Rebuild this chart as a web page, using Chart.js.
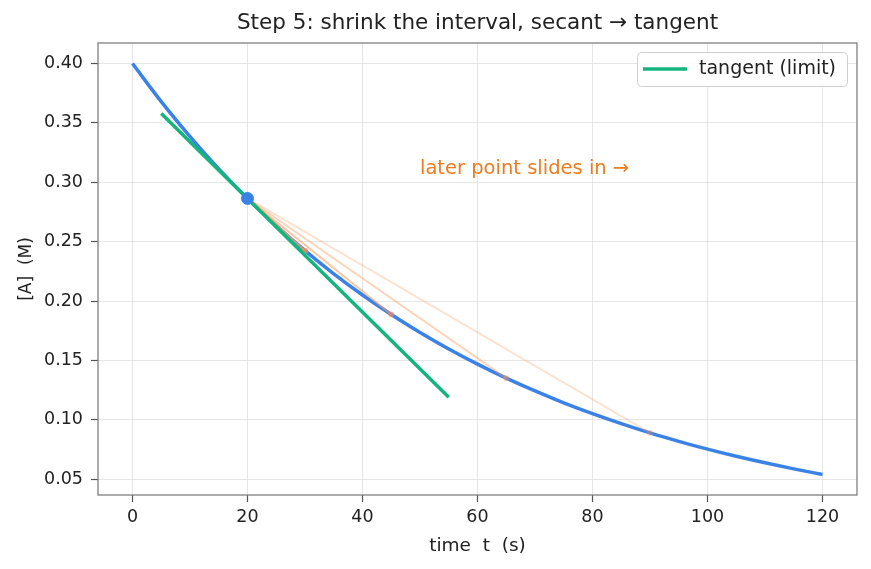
<!DOCTYPE html>
<html lang="en">
<head>
<meta charset="UTF-8" />
<title>secant to tangent</title>
<script src="https://cdn.jsdelivr.net/npm/chart.js"></script>
<style>
    html, body { margin: 0; padding: 0; background: #fff; }
    #box { width: 871px; height: 569px; }
</style>
</head>
<body>
<div id="box"><canvas id="grafico"></canvas></div>
<script>
    // curve [A](t), every 5 s
    const tempos = [0, 5, 10, 15, 20, 25, 30, 35, 40, 45, 50, 55, 60, 65, 70, 75, 80, 85, 90, 95, 100, 105, 110, 115, 120];
    const concentracao = [0.4000, 0.3679, 0.3385, 0.3113, 0.2864, 0.2635, 0.2424, 0.2229, 0.2051, 0.1887, 0.1736, 0.1597, 0.1469, 0.1351, 0.1243, 0.1143, 0.1052, 0.0968, 0.0890, 0.0819, 0.0753, 0.0693, 0.0638, 0.0587, 0.0540];

    // fixed point and the later points of the secants
    const ponto_t = 20;
    const ponto_a = 0.2864;
    const secante_t = [90, 65, 45, 30];
    const secante_a = [0.0890, 0.1351, 0.1887, 0.2424];
    const secante_alpha = [0.3, 0.45, 0.6, 0.75];

    // tangent line ends
    const tangente_t = [5, 55];
    const tangente_a = [0.3580, 0.1190];

    const ticks_x = [0, 20, 40, 60, 80, 100, 120];
    const ticks_y = [0.05, 0.10, 0.15, 0.20, 0.25, 0.30, 0.35, 0.40];

    const AZUL = '#3b82e6';
    const VERDE = '#14b47f';
    const LARANJA = '#ee7b1e';
    const fonte = '"DejaVu Sans", sans-serif';

    var datasets = [];

    datasets.push({
        label: 'curve',
        data: tempos.map((t, i) => ({ x: t, y: concentracao[i] })),
        borderColor: AZUL,
        borderWidth: 3.5,
        pointRadius: 0,
        cubicInterpolationMode: 'monotone',
        order: 10
    });

    for (let i = 0; i < secante_t.length; i++) {
        datasets.push({
            label: 'secant ' + secante_t[i],
            data: [{ x: ponto_t, y: ponto_a }, { x: secante_t[i], y: secante_a[i] }],
            borderColor: `rgba(246,160,100,${secante_alpha[i]})`,
            backgroundColor: `rgba(240,140,90,${secante_alpha[i]})`,
            borderWidth: 2,
            pointRadius: [0, 3],
            pointBorderWidth: 0,
            order: 9 - i
        });
    }

    datasets.push({
        label: 'tangent (limit)',
        data: tangente_t.map((t, i) => ({ x: t, y: tangente_a[i] })),
        borderColor: VERDE,
        borderWidth: 3.5,
        pointRadius: 0,
        order: 2
    });

    datasets.push({
        label: 'point',
        data: [{ x: ponto_t, y: ponto_a }],
        backgroundColor: AZUL,
        borderColor: AZUL,
        pointRadius: 6,
        showLine: false,
        order: 1
    });

    // title, axis titles, legend, annotation and the frame
    const extras = {
        id: 'extras',
        afterDraw(chart) {
            const ctx = chart.ctx;
            const area = chart.chartArea;
            const sx = chart.scales.x;
            const sy = chart.scales.y;
            ctx.save();

            ctx.strokeStyle = '#808080';
            ctx.lineWidth = 1.3;
            ctx.strokeRect(area.left, area.top, area.right - area.left, area.bottom - area.top);

            ctx.fillStyle = '#222';
            ctx.font = '21.5px ' + fonte;
            ctx.textAlign = 'center';
            ctx.textBaseline = 'middle';
            ctx.fillText('Step 5: shrink the interval, secant \u2192 tangent', (area.left + area.right) / 2, 23);

            ctx.font = '18.5px ' + fonte;
            ctx.fillText('time  t  (s)', (area.left + area.right) / 2, 546);
            ctx.save();
            ctx.translate(27, (area.top + area.bottom) / 2);
            ctx.rotate(-Math.PI / 2);
            ctx.font = '17px ' + fonte;
            ctx.fillText('[A]  (M)', 0, 0);
            ctx.restore();

            ctx.fillStyle = LARANJA;
            ctx.font = '19.5px ' + fonte;
            ctx.textAlign = 'left';
            ctx.fillText('later point slides in \u2192', sx.getPixelForValue(50), sy.getPixelForValue(0.311));

            // legend
            const lx = 637, ly = 52, lw = 210, lh = 34;
            ctx.fillStyle = 'rgba(255,255,255,0.85)';
            ctx.strokeStyle = '#d0d0d0';
            ctx.lineWidth = 1;
            ctx.beginPath();
            ctx.roundRect(lx + 0.5, ly + 0.5, lw, lh, 4);
            ctx.fill();
            ctx.stroke();
            ctx.strokeStyle = VERDE;
            ctx.lineWidth = 3.5;
            ctx.beginPath();
            ctx.moveTo(lx + 6, ly + 17);
            ctx.lineTo(lx + 50, ly + 17);
            ctx.stroke();
            ctx.fillStyle = '#222';
            ctx.font = '19px ' + fonte;
            ctx.fillText('tangent (limit)', lx + 62, ly + 17);

            ctx.restore();
        }
    };

    const grafico = document.getElementById('grafico');
    new Chart(grafico, {
        type: 'line',
        data: { datasets: datasets },
        options: {
            responsive: true,
            maintainAspectRatio: false,
            animation: false,
            layout: { padding: { top: 43, right: 14, left: 0, bottom: 0 } },
            plugins: {
                legend: { display: false },
                title: { display: false },
                tooltip: { enabled: false }
            },
            scales: {
                x: {
                    type: 'linear',
                    min: -6,
                    max: 126,
                    afterBuildTicks: (s) => { s.ticks = ticks_x.map(v => ({ value: v })); },
                    afterFit: (s) => { s.height = 74; },
                    grid: { color: '#e0e0e0', lineWidth: 0.8, tickLength: 7, tickColor: '#555', tickWidth: 1.2 },
                    border: { display: false },
                    ticks: { color: '#222', font: { family: fonte, size: 17.5 }, padding: 5, maxRotation: 0 }
                },
                y: {
                    type: 'linear',
                    min: 0.0367,
                    max: 0.4173,
                    afterBuildTicks: (s) => { s.ticks = ticks_y.map(v => ({ value: v })); },
                    afterFit: (s) => { s.width = 98; },
                    grid: { color: '#e0e0e0', lineWidth: 0.8, tickLength: 7, tickColor: '#555', tickWidth: 1.2 },
                    border: { display: false },
                    ticks: { color: '#222', font: { family: fonte, size: 17.5 }, padding: 8, callback: (v) => v.toFixed(2) }
                }
            }
        },
        plugins: [extras]
    });
</script>
</body>
</html>
